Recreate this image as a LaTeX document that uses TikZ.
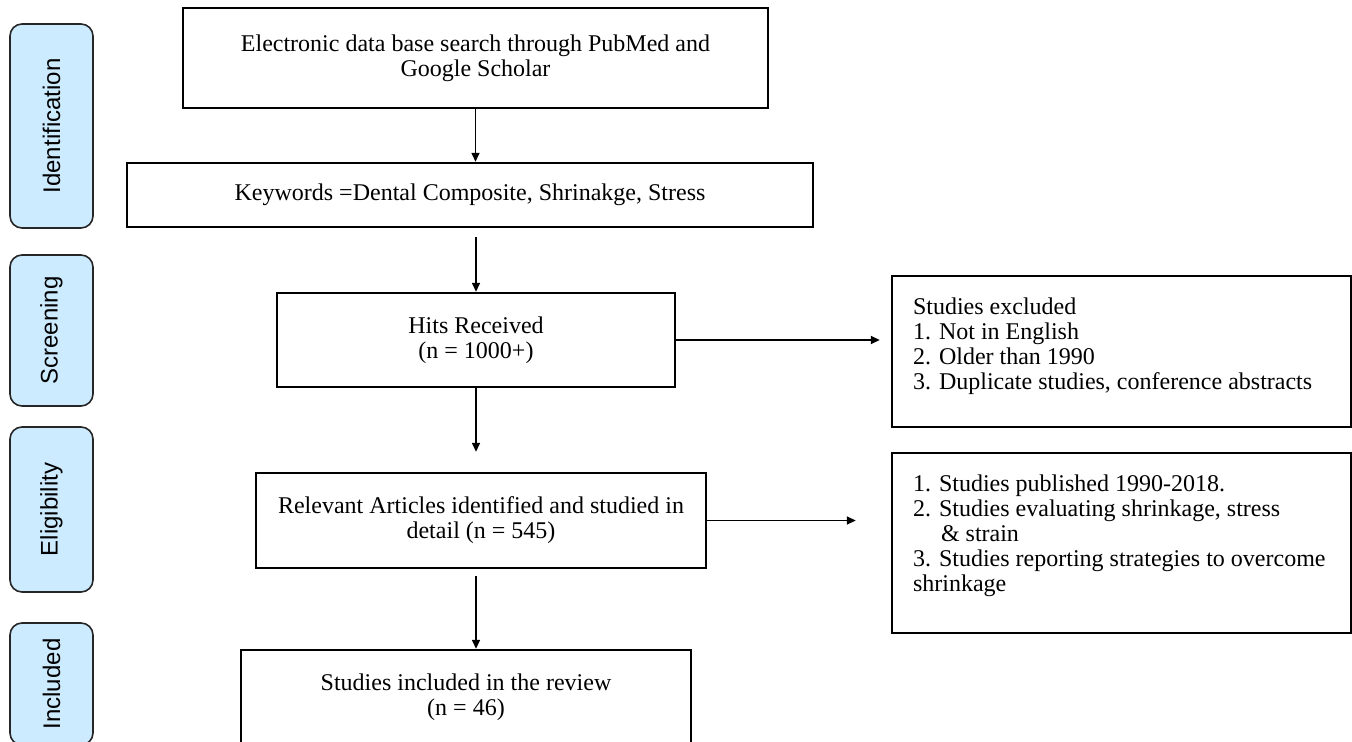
\documentclass[tikz,border=0pt]{standalone}
\usepackage{fontspec}
\setmainfont{Liberation Serif}
\setsansfont{Liberation Sans}
\usepackage{tikz}
\usetikzlibrary{positioning}
\usetikzlibrary{arrows.meta}
\definecolor{stageblue}{HTML}{CCEBFF}

\begin{document}
\begin{tikzpicture}[x=0.5pt, y=-0.5pt,
    stagebox/.style={draw=black!85, line width=0.8pt, rounded corners=6pt, fill=stageblue, rotate=90, minimum height=41.5pt, font=\sffamily\fontsize{12}{14}\selectfont},
    flowbox/.style={draw=black, line width=1.2pt, align=center, inner sep=0pt, font=\fontsize{12}{12.5}\selectfont},
    sidebox/.style={draw=black, line width=1.2pt, inner xsep=10.5pt, inner ysep=0pt, font=\fontsize{12}{12.5}\selectfont},
    flow/.style={line width=0.75pt, -{Triangle[length=4.5pt,width=4pt]}}]
    \useasboundingbox (0,0) rectangle (1352,742);
    % stages
    \node[stagebox, minimum width=102pt] (L1) at (51.5,126) {Identification};
    \node[stagebox, minimum width=75.5pt] (L2) at (51.5,330.5) {Screening};
    \node[stagebox, minimum width=82.5pt] (L3) at (51.5,509.5) {Eligibility};
    \node[stagebox, minimum width=61pt] (L4) at (51.5,684) {Included};
    % main column
    \node[flowbox, minimum width=292.5pt, minimum height=50pt] (B1) at (475.5,58) {Electronic data base search through PubMed and\\ Google Scholar};
    \node[flowbox, minimum width=343pt, minimum height=32pt] (B2) at (470,195) {Keywords =Dental Composite, Shrinakge, Stress};
    \node[flowbox, minimum width=199pt, minimum height=47pt] (B3) at (476,340) {Hits Received\\ (n = 1000+)};
    \node[flowbox, minimum width=225pt, minimum height=47.5pt] (B4) at (481,520.5) {Relevant Articles identified and studied in\\ detail (n = 545)};
    \node[flowbox, minimum width=225pt, minimum height=47.5pt] (B5) at (466,697.5) {Studies included in the review\\ (n = 46)};
    % side boxes
    \node[sidebox] (X1) at (1121.5,351.5) {\parbox[c][75.5pt][t]{208.5pt}{\raggedright\vspace*{11pt}Studies excluded\\
        1. Not in English\\
        2. Older than 1990\\
        3. Duplicate studies, conference abstracts}};
    \node[sidebox] (X2) at (1121.5,543) {\parbox[c][90pt][t]{208.5pt}{\raggedright\vspace*{11pt}1. Studies published 1990-2018.\\
        2. Studies evaluating shrinkage, stress\\
        \hspace*{14pt}\& strain\\
        3. Studies reporting strategies to overcome\\
        shrinkage}};
    % arrows
    \draw[flow] (B1.south) -- (B1.south |- B2.north);
    \draw[flow, shorten <=4.5pt] (B3.north |- B2.south) -- (B3.north);
    \draw[flow, shorten >=10pt] (B3.south) -- (B3.south |- B4.north);
    \draw[flow, shorten <=3.5pt] (B4.south -| B3.south) -- (B5.north -| B3.south);
    \draw[flow, shorten >=5.5pt] (B3.east) -- (B3.east -| X1.west);
    \draw[flow, shorten >=17.5pt] (B4.east) -- (B4.east -| X2.west);
\end{tikzpicture}
\end{document}
